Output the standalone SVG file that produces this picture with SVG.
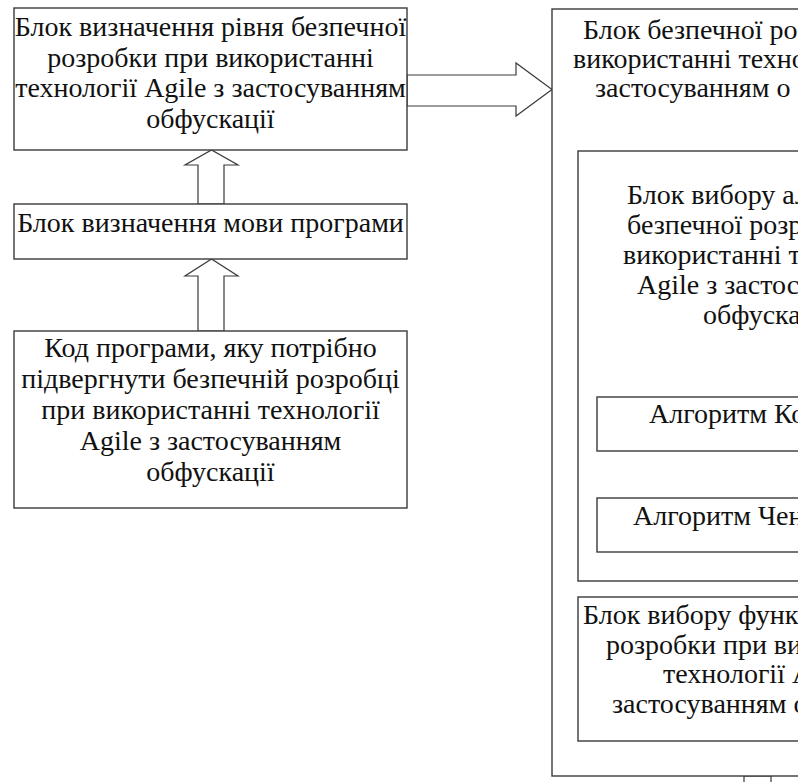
<svg xmlns="http://www.w3.org/2000/svg" width="798" height="782" viewBox="0 0 798 782">
<style>
.b{fill:#fff;stroke:#3a3a3a;stroke-width:1.4}
.a{fill:#fff;stroke:#3a3a3a;stroke-width:1.2}
.t{font-size:28px;fill:#111}
.m{text-anchor:middle}
</style>
<rect width="798" height="782" fill="#fff"/>
<g id="connectors">
<polygon class="a" points="198,204 198,165 185,165 211.5,150 238,165 224,165 224,204"/>
<polygon class="a" points="198,331 198,276 185,276 211.5,259 238,276 224,276 224,331"/>
<polygon class="a" points="407,75 516,75 516,63 552,89.5 516,116 516,106 407,106"/>
<polyline class="a" fill="none" points="744,782 744,776 771,776 771,782"/>
</g>
<g font-family="'Liberation Serif', 'Times New Roman', serif">
<g id="n1">
<rect class="b" x="14" y="8" width="393" height="142"/>
<text class="t m" x="210.5" y="36">Блок визначення рівня безпечної</text>
<text class="t m" x="210.5" y="66.5">розробки при використанні</text>
<text class="t m" x="210.5" y="97">технології Agile з застосуванням</text>
<text class="t m" x="210.5" y="127.5">обфускації</text>
</g>
<g id="n2">
<rect class="b" x="14" y="204" width="393" height="55"/>
<text class="t m" x="210.5" y="232">Блок визначення мови програми</text>
</g>
<g id="n3">
<rect class="b" x="14" y="331" width="393" height="177"/>
<text class="t m" x="210.5" y="357">Код програми, яку потрібно</text>
<text class="t m" x="210.5" y="388">підвергнути безпечній розробці</text>
<text class="t m" x="210.5" y="419">при використанні технології</text>
<text class="t m" x="210.5" y="450">Agile з застосуванням</text>
<text class="t m" x="210.5" y="481">обфускації</text>
</g>
<g id="n4">
<rect class="b" x="552" y="9" width="260" height="767"/>
<text class="t" x="583" y="39">Блок безпечної ро</text>
<text class="t" x="573" y="68">використанні техно</text>
<text class="t" x="595" y="97">застосуванням о</text>
</g>
<g id="n5">
<rect class="b" x="578" y="151" width="230" height="430"/>
<text class="t" x="627" y="204">Блок вибору ал</text>
<text class="t" x="627" y="234">безпечної розро</text>
<text class="t" x="623" y="264">використанні те</text>
<text class="t" x="637" y="294">Agile з застосу</text>
<text class="t" x="703" y="324">обфускац</text>
</g>
<g id="n6">
<rect class="b" x="597" y="397" width="210" height="54"/>
<text class="t" x="649" y="423">Алгоритм Ко</text>
</g>
<g id="n7">
<rect class="b" x="597" y="498" width="210" height="54"/>
<text class="t" x="633" y="525">Алгоритм Чен</text>
</g>
<g id="n8">
<rect class="b" x="578" y="597" width="230" height="144"/>
<text class="t" x="583" y="624">Блок вибору функ</text>
<text class="t" x="606" y="654">розробки при ви</text>
<text class="t" x="663" y="683">технології А</text>
<text class="t" x="612" y="713">застосуванням о</text>
</g>
</g>
</svg>
